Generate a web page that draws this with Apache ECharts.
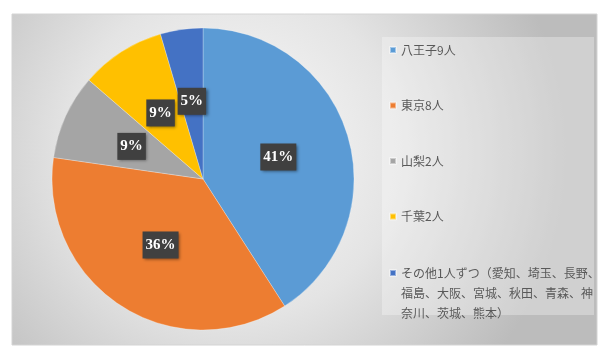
<!DOCTYPE html>
<html>
<head>
<meta charset="utf-8">
<script src="https://cdn.jsdelivr.net/npm/echarts@6/dist/echarts.min.js"></script>
<style>
html,body{margin:0;padding:0;background:#fff;}
#main{width:612px;height:362px;}
</style>
</head>
<body>
<div id="main"></div>
<script>
// Data
var categories = ['八王子9人', '東京8人', '山梨2人', '千葉2人', 'その他1人ずつ（愛知、埼玉、長野、福島、大阪、宮城、秋田、青森、神奈川、茨城、熊本）'];
var values = [9, 8, 2, 2, 1];
var legendLabels = ['八王子9人', '東京8人', '山梨2人', '千葉2人', 'その他1人ずつ（愛知、埼玉、長野、\n福島、大阪、宮城、秋田、青森、神\n奈川、茨城、熊本）'];
var colors = ['#5B9BD5', '#ED7D31', '#A5A5A5', '#FFC000', '#4472C4'];

var chart = echarts.init(document.getElementById('main'), null, {renderer: 'canvas'});
var labelMap = {};
categories.forEach(function (c, i) { labelMap[c] = legendLabels[i]; });

var pieData = categories.map(function (c, i) {
  return {name: c, value: values[i], itemStyle: {color: colors[i]}};
});

var legendText = {
  color: '#595959',
  fontSize: 12,
  fontFamily: '"Noto Sans CJK JP", sans-serif',
  lineHeight: 16
};

var option = {
  backgroundColor: '#ffffff',
  animation: false,
  graphic: [
    {
      type: 'rect', z: -10, silent: true,
      shape: {x: 12, y: 14, width: 585, height: 331},
      style: {
        fill: {
          type: 'radial', x: 0.38, y: 0.42, r: 1.0,
          colorStops: [{offset: 0, color: '#fbfbfb'}, {offset: 0.5, color: '#e4e4e4'}, {offset: 1, color: '#bcbcbc'}]
        },
        stroke: '#d4d4d4', lineWidth: 1
      }
    },
    {
      type: 'rect', z: -9, silent: true,
      shape: {x: 382, y: 37, width: 212, height: 278},
      style: {fill: 'rgba(255,255,255,0.3)'}
    }
  ],
  legend: [
    {
      orient: 'vertical',
      left: 384, top: 37,
      itemWidth: 6, itemHeight: 6, itemGap: 39.5,
      icon: 'rect',
      data: categories.slice(0, 4),
      formatter: function (n) { return labelMap[n]; },
      textStyle: legendText,
      selectedMode: false
    },
    {
      orient: 'vertical',
      left: 384, top: 218,
      itemWidth: 6, itemHeight: 6,
      icon: 'rect',
      data: categories.slice(4),
      formatter: function (n) { return '\n\n' + labelMap[n]; },
      textStyle: {
        color: '#595959', fontSize: 12,
        fontFamily: '"Noto Sans CJK JP", sans-serif',
        lineHeight: 20
      },
      selectedMode: false
    }
  ],
  series: [{
    type: 'pie',
    center: [203, 179],
    radius: [0, 151],
    startAngle: 90,
    clockwise: true,
    data: pieData,
    itemStyle: {borderColor: 'rgba(255,255,255,0.45)', borderWidth: 0.6},
    label: {
      show: true,
      position: 'inside',
      formatter: function (p) { return Math.round(p.percent) + '%'; },
      color: '#ffffff',
      fontFamily: '"Liberation Serif", serif',
      fontWeight: 'bold',
      fontSize: 15,
      lineHeight: 16,
      backgroundColor: '#404040',
      padding: [6, 3, 5, 3],
      shadowColor: 'rgba(0,0,0,0.45)',
      shadowBlur: 3,
      shadowOffsetX: 1.5,
      shadowOffsetY: 1.5
    },
    labelLine: {show: false},
    emphasis: {disabled: true}
  }]
};
chart.setOption(option);
</script>
</body>
</html>
